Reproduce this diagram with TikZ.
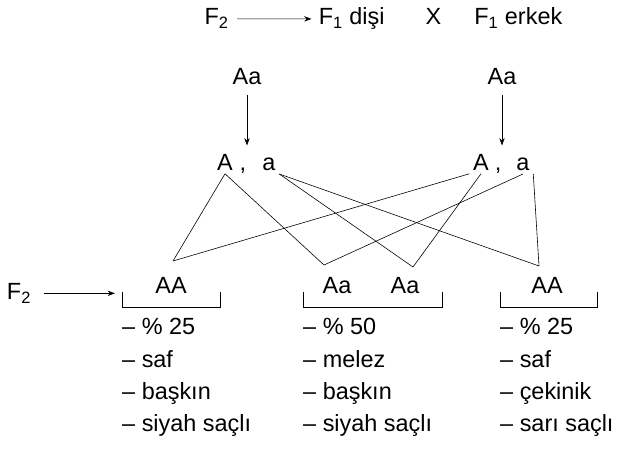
\documentclass[tikz,border=0pt]{standalone}
\usepackage{fontspec}
\setmainfont{Liberation Sans}
\usetikzlibrary{arrows.meta, positioning}

\begin{document}
\begin{tikzpicture}[
  gene/.style={inner sep=3pt, font=\fontsize{20}{24}\selectfont},
  info/.style={anchor=north west, align=left, inner sep=0pt, font=\fontsize{20}{27.5}\selectfont},
  pair/.style={line width=0.5pt},
  brk/.style={line width=0.5pt},
  fwd/.style={-{Stealth[length=2.2mm, width=1.6mm]}, line width=0.5pt},
]
\useasboundingbox (0,0) rectangle (18.51,-13.77);

% Title
\node[gene, anchor=base] (f2top)  at (6.50,-0.75)  {F\textsubscript{2}};
\node[gene, anchor=base] (fdisi)  at (10.55,-0.75) {F\textsubscript{1} dişi};
\node[gene, anchor=base] (kross)  at (13.00,-0.75) {X};
\node[gene, anchor=base] (ferkek) at (15.55,-0.75) {F\textsubscript{1} erkek};
\draw[fwd, shorten <=4pt, shorten >=3pt] (f2top) -- (fdisi);

% Parents
\node[gene] (pA) at (7.41,-2.31)  {Aa};
\node[gene] (pB) at (15.06,-2.31) {Aa};

% Gametes
\node[gene, anchor=base] (gA1) at (6.75,-5.10)  {A};
\node[gene, anchor=base] (c1)  at (7.29,-5.10)  {,};
\node[gene, anchor=base] (ga1) at (8.07,-5.10)  {a};
\node[gene, anchor=base] (gA2) at (14.43,-5.10) {A};
\node[gene, anchor=base] (c2)  at (14.94,-5.10) {,};
\node[gene, anchor=base] (ga2) at (15.69,-5.10) {a};

\draw[fwd, shorten <=5pt, shorten >=4pt] (pA) -- (pA |- gA1.north);
\draw[fwd, shorten <=5pt, shorten >=4pt] (pB) -- (pB |- gA2.north);

% Offspring
\coordinate (j1) at (5.19,-7.83);
\coordinate (j2) at (9.72,-7.95);
\coordinate (j3) at (12.39,-8.01);
\coordinate (j4) at (16.17,-7.98);
\node[gene, anchor=base] (oAA1) at (5.13,-8.79)  {AA};
\node[gene, anchor=base] (oAa1) at (10.11,-8.79) {Aa};
\node[gene, anchor=base] (oAa2) at (12.15,-8.79) {Aa};
\node[gene, anchor=base] (oAA2) at (16.41,-8.79) {AA};

\draw[pair] (gA1.south) -- (j1);
\draw[pair] (gA1.south) -- (j2);
\draw[pair] (ga1.south east) -- (j3);
\draw[pair] (ga1.south east) -- (j4);
\draw[pair] (gA2.south west) -- (j1);
\draw[pair] (gA2.south) -- (j3);
\draw[pair] (ga2.south) -- (j2);
\draw[pair] (ga2.south east) -- (j4);

% Brackets
\coordinate (bl1) at (3.66,-8.76);
\coordinate (br1) at (6.60,-8.76);
\coordinate (bl2) at (9.09,-8.76);
\coordinate (br2) at (13.26,-8.76);
\coordinate (bl3) at (15.00,-8.76);
\coordinate (br3) at (17.91,-8.76);
\draw[brk] (bl1) -- ++(0,-0.45) -| (br1);
\draw[brk] (bl2) -- ++(0,-0.45) -| (br2);
\draw[brk] (bl3) -- ++(0,-0.45) -| (br3);

\node[gene] (f2low) at (0.57,-8.80) {F\textsubscript{2}};
\draw[fwd, shorten <=8pt] (f2low.east) -- ([xshift=-6pt]bl1 |- f2low.east);

% Descriptions
\node[info] (d1) at (3.66,-9.55)  {-- \% 25\\-- saf\\-- başkın\\-- siyah saçlı};
\node[info] (d2) at (9.09,-9.55)  {-- \% 50\\-- melez\\-- başkın\\-- siyah saçlı};
\node[info] (d3) at (15.00,-9.55) {-- \% 25\\-- saf\\-- çekinik\\-- sarı saçlı};

\end{tikzpicture}
\end{document}
